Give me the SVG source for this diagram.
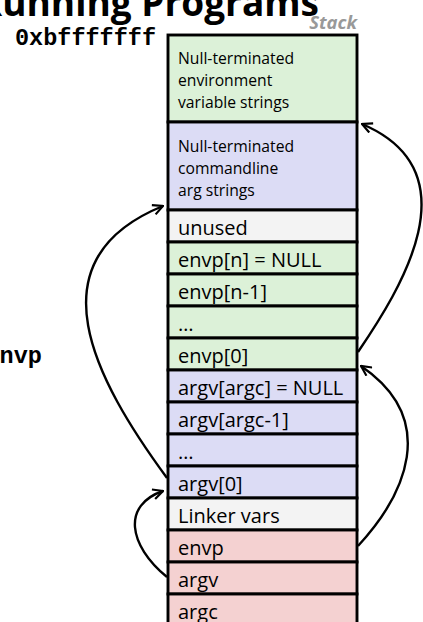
<svg xmlns="http://www.w3.org/2000/svg" width="423" height="622" viewBox="0 0 423 622">
<style>
.c{stroke:#000;stroke-width:2.9}
.g{fill:#dcf1d8}.p{fill:#dcdcf5}.w{fill:#f3f3f3}.r{fill:#f4d1d1}
.t{font-family:"Open Sans",sans-serif;font-size:20px;fill:#000}
.s{font-family:"Open Sans",sans-serif;font-size:15.7px;fill:#000}
.m{font-family:"Liberation Mono",monospace;font-weight:bold;font-size:23.5px;fill:#000}
.a{fill:none;stroke:#000;stroke-width:2.4;marker-end:url(#ah)}
</style>
<defs>
<marker id="ah" viewBox="0 0 12 12" refX="11" refY="6" markerWidth="12" markerHeight="12" markerUnits="userSpaceOnUse" orient="auto">
<path d="M1 1 L11 6 L1 11" fill="none" stroke="#000" stroke-width="2.2"/>
</marker>
</defs>
<text x="319" y="16" text-anchor="end" style="font-family:'Open Sans',sans-serif;font-weight:bold;font-size:37px">Running Programs</text>
<text x="357" y="29" text-anchor="end" style="font-family:'Open Sans',sans-serif;font-weight:bold;font-style:italic;font-size:18.5px;fill:#999">Stack</text>
<text class="m" x="15" y="45">0xbfffffff</text>
<text class="m" x="-14.5" y="363">envp</text>
<g id="envstrings"><rect class="c g" x="168" y="35" width="189" height="87"/><text class="s" x="178" y="64">Null-terminated</text><text class="s" x="178" y="86">environment</text><text class="s" x="178" y="108">variable strings</text></g>
<g id="argstrings"><rect class="c p" x="168" y="122" width="189" height="88"/><text class="s" x="178" y="152">Null-terminated</text><text class="s" x="178" y="174">commandline</text><text class="s" x="178" y="196">arg strings</text></g>
<g id="unused"><rect class="c w" x="168" y="210" width="189" height="32"/><text class="t" x="178" y="235">unused</text></g>
<g id="envpn"><rect class="c g" x="168" y="242" width="189" height="32"/><text class="t" x="178" y="267">envp[n] = NULL</text></g>
<g id="envpn1"><rect class="c g" x="168" y="274" width="189" height="32"/><text class="t" x="178" y="299">envp[n-1]</text></g>
<g id="envpdots"><rect class="c g" x="168" y="306" width="189" height="32"/><text class="t" x="178" y="331">…</text></g>
<g id="envp0"><rect class="c g" x="168" y="338" width="189" height="32"/><text class="t" x="178" y="363">envp[0]</text></g>
<g id="argvargc"><rect class="c p" x="168" y="370" width="189" height="32"/><text class="t" x="178" y="395">argv[argc] = NULL</text></g>
<g id="argvargc1"><rect class="c p" x="168" y="402" width="189" height="32"/><text class="t" x="178" y="427">argv[argc-1]</text></g>
<g id="argvdots"><rect class="c p" x="168" y="434" width="189" height="32"/><text class="t" x="178" y="459">…</text></g>
<g id="argv0"><rect class="c p" x="168" y="466" width="189" height="32"/><text class="t" x="178" y="491">argv[0]</text></g>
<g id="linker"><rect class="c w" x="168" y="498" width="189" height="32"/><text class="t" x="178" y="523">Linker vars</text></g>
<g id="envp"><rect class="c r" x="168" y="530" width="189" height="32"/><text class="t" x="178" y="555">envp</text></g>
<g id="argv"><rect class="c r" x="168" y="562" width="189" height="32"/><text class="t" x="178" y="587">argv</text></g>
<g id="argc"><rect class="c r" x="168" y="594" width="189" height="32"/><text class="t" x="178" y="619">argc</text></g>
<g id="connectors">
<path class="a" d="M358 352 C400 290 475 172 362 124"/>
<path class="a" d="M167 478 C95 380 30 260 163 206"/>
<path class="a" d="M167 577 C128 545 122 505 163 491"/>
<path class="a" d="M358 546 C405 495 440 420 361 366"/>
</g>
</svg>
